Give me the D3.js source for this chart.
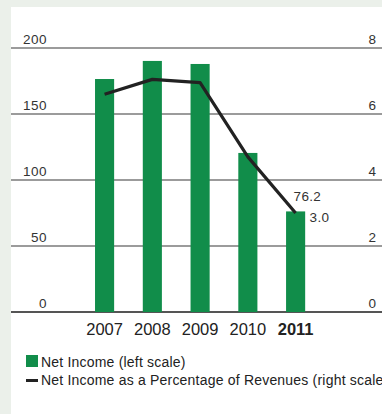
<!DOCTYPE html>
<html>
<head>
<meta charset="utf-8">
<script src="https://cdn.jsdelivr.net/npm/d3@7"></script>
<style>
  html, body { margin: 0; padding: 0; background: #ebf0ea; }
  svg { display: block; font-family: "Liberation Sans", Arial, sans-serif; }
</style>
</head>
<body>
<svg id="chart" width="382" height="414"></svg>
<script>
// Net income (left scale, millions) and net income as % of revenues (right scale)
const years = ["2007", "2008", "2009", "2010", "2011"];
const netIncome = [176.5, 190.2, 187.9, 120.5, 76.2];
const pctOfRevenues = [6.6, 7.05, 6.95, 4.7, 3.0];
const leftTicks = [0, 50, 100, 150, 200];
const rightTicks = [0, 2, 4, 6, 8];
const legendLabels = ["Net Income (left scale)", "Net Income as a Percentage of Revenues (right scale)"];

const W = 382, H = 414;
const svg = d3.select("#chart");

// white panel
svg.append("rect").attr("x", 11).attr("y", 7).attr("width", W - 11).attr("height", H - 7).attr("fill", "#ffffff");

const plotTop = 48, plotBottom = 312;
const yL = d3.scaleLinear().domain([0, 200]).range([plotBottom, plotTop]);
const yR = d3.scaleLinear().domain([0, 8]).range([plotBottom, plotTop]);
const x = d3.scaleBand().domain(years).range([80.7, 319.5]).paddingInner(0.6).paddingOuter(0.3);

// gridlines
svg.append("g").selectAll("line").data(leftTicks).join("line")
  .attr("x1", 11).attr("x2", W)
  .attr("y1", d => yL(d)).attr("y2", d => yL(d))
  .attr("stroke", d => d === 0 ? "#555" : "#7a7a7a")
  .attr("stroke-width", d => d === 0 ? 2 : 1.5);

// left tick labels
svg.append("g").selectAll("text").data(leftTicks).join("text")
  .attr("x", 47).attr("y", d => yL(d) - 4)
  .attr("text-anchor", "end").attr("font-size", 13.5).attr("letter-spacing", 0.5).attr("fill", "#333")
  .text(d => d);

// right tick labels
svg.append("g").selectAll("text").data(rightTicks).join("text")
  .attr("x", 376).attr("y", d => yR(d) - 4)
  .attr("text-anchor", "end").attr("font-size", 13.5).attr("fill", "#333")
  .text(d => d);

// bars
svg.append("g").selectAll("rect").data(years).join("rect")
  .attr("x", d => x(d)).attr("width", x.bandwidth())
  .attr("y", (d, i) => yL(netIncome[i]))
  .attr("height", (d, i) => yL(0) - yL(netIncome[i]))
  .attr("fill", "#118d4a");

// line
const line = d3.line()
  .x((d, i) => x(years[i]) + x.bandwidth() / 2)
  .y(d => yR(d));
svg.append("path").datum(pctOfRevenues)
  .attr("d", line).attr("fill", "none")
  .attr("stroke", "#222").attr("stroke-width", 3.2)
  .attr("stroke-linejoin", "round");

// value labels for the last year
const last = years.length - 1;
svg.append("text")
  .attr("x", x(years[last]) + x.bandwidth() / 2 - 2).attr("y", yL(netIncome[last]) - 10)
  .attr("font-size", 13.5).attr("letter-spacing", 0.3).attr("fill", "#333")
  .text(netIncome[last].toFixed(1));
svg.append("text")
  .attr("x", x(years[last]) + x.bandwidth() / 2 + 14).attr("y", yR(pctOfRevenues[last]) + 9)
  .attr("font-size", 13.5).attr("letter-spacing", 0.3).attr("fill", "#333")
  .text(pctOfRevenues[last].toFixed(1));

// x axis labels
svg.append("g").selectAll("text").data(years).join("text")
  .attr("x", d => x(d) + x.bandwidth() / 2).attr("y", 335)
  .attr("text-anchor", "middle").attr("font-size", 16.5).attr("fill", "#222")
  .attr("font-weight", (d, i) => i === last ? "bold" : "normal")
  .text(d => d);

// legend
svg.append("rect").attr("x", 26).attr("y", 355).attr("width", 12).attr("height", 12).attr("fill", "#118d4a");
svg.append("rect").attr("x", 26).attr("y", 379).attr("width", 12).attr("height", 3).attr("fill", "#222");
svg.append("g").selectAll("text").data(legendLabels).join("text")
  .attr("x", 41).attr("y", (d, i) => 367 + i * 18)
  .attr("font-size", 14).attr("letter-spacing", 0.2).attr("fill", "#222")
  .text(d => d);
</script>
</body>
</html>
